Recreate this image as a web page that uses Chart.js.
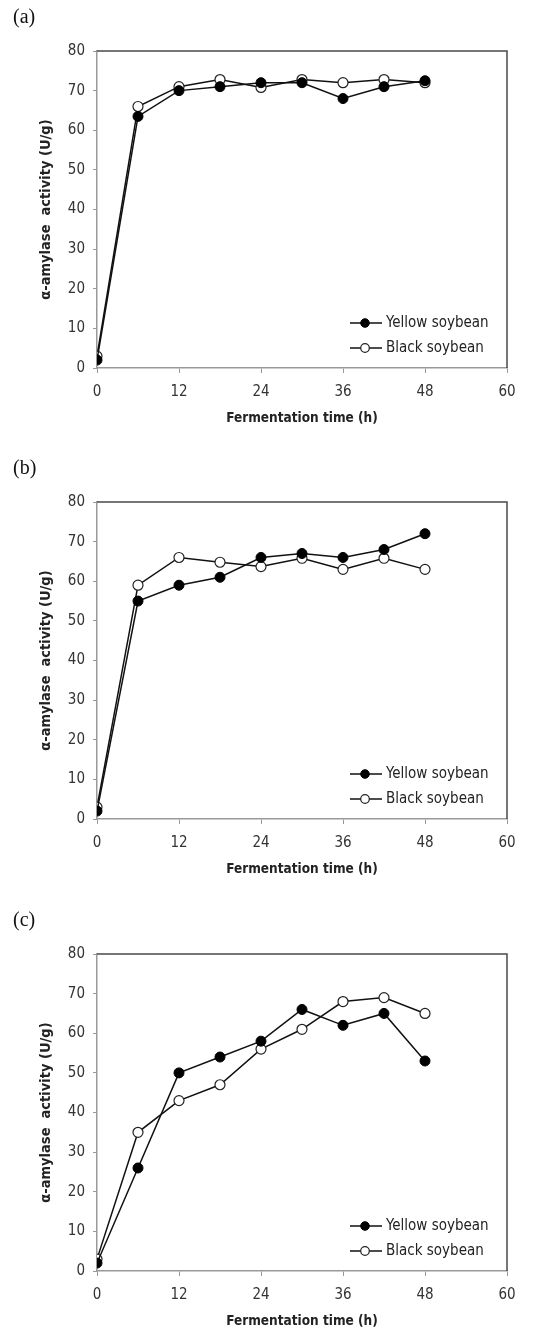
<!doctype html>
<html lang="en">

<head>
    <meta charset="utf-8" />
    <title>alpha-amylase activity</title>
    <script src="https://cdn.jsdelivr.net/npm/chart.js"></script>
    <style>
        body {
            margin: 0;
            background: #fff;
        }

        .panel {
            position: absolute;
            left: 0;
            width: 544px;
            height: 433px;
        }

        .tag {
            position: absolute;
            left: 13px;
            top: 5px;
            font-family: "Liberation Serif", serif;
            font-size: 20px;
            color: #111;
        }
    </style>
</head>

<body>
    <div class="panel" style="top: 0px;">
        <div class="tag">(a)</div>
        <canvas id="chartA" width="544" height="433"></canvas>
    </div>
    <div class="panel" style="top: 451px;">
        <div class="tag">(b)</div>
        <canvas id="chartB" width="544" height="433"></canvas>
    </div>
    <div class="panel" style="top: 903px;">
        <div class="tag">(c)</div>
        <canvas id="chartC" width="544" height="433"></canvas>
    </div>
    <script>
        // fermentation time, h
        const hours = [0, 6, 12, 18, 24, 30, 36, 42, 48];
        const seriesNames = ['Yellow soybean', 'Black soybean'];

        // alpha-amylase activity, U/g
        const yellowA = [2, 63.5, 70, 71, 72, 72, 68, 71, 72.5];
        const blackA = [3, 66, 71, 72.8, 70.8, 72.8, 72, 72.8, 72];

        const yellowB = [2, 55, 59, 61, 66, 67, 66, 68, 72];
        const blackB = [3, 59, 66, 64.8, 63.7, 65.8, 63, 65.8, 63];

        const yellowC = [2, 26, 50, 54, 58, 66, 62, 65, 53];
        const blackC = [3, 35, 43, 47, 56, 61, 68, 69, 65];

        const xTicks = [0, 12, 24, 36, 48, 60];

        const FAMILY = '"DejaVu Sans Condensed", "DejaVu Sans", sans-serif';
        const TICK_FONT = { family: FAMILY, size: 15 };

        function toPoints(values) {
            return hours.map((h, i) => ({ x: h, y: values[i] }));
        }

        // top and right edges of the plot box
        const framePlugin = {
            id: 'frame',
            beforeDatasetsDraw(chart) {
                const { ctx, chartArea: a } = chart;
                ctx.save();
                ctx.strokeStyle = '#4a4a4a';
                ctx.lineWidth = 1.5;
                ctx.beginPath();
                ctx.moveTo(a.left, a.top);
                ctx.lineTo(a.right, a.top);
                ctx.lineTo(a.right, a.bottom);
                ctx.stroke();
                ctx.restore();
            }
        };

        // legend in the lower right corner of the plot
        const cornerLegend = {
            id: 'cornerLegend',
            afterDatasetsDraw(chart) {
                const { ctx, chartArea: a } = chart;
                const rows = [a.bottom - 45, a.bottom - 20];
                ctx.save();
                chart.data.datasets.forEach((ds, i) => {
                    const y = rows[i];
                    const x0 = a.right - 157;
                    ctx.strokeStyle = ds.borderColor;
                    ctx.lineWidth = ds.borderWidth;
                    ctx.beginPath();
                    ctx.moveTo(x0, y);
                    ctx.lineTo(x0 + 32, y);
                    ctx.stroke();
                    ctx.beginPath();
                    ctx.arc(x0 + 15, y, 4.3, 0, Math.PI * 2);
                    ctx.fillStyle = ds.pointBackgroundColor;
                    ctx.fill();
                    ctx.lineWidth = ds.pointBorderWidth;
                    ctx.strokeStyle = ds.pointBorderColor;
                    ctx.stroke();
                    ctx.fillStyle = '#222';
                    ctx.font = '15px ' + FAMILY;
                    ctx.textBaseline = 'middle';
                    ctx.fillText(ds.label, x0 + 36, y);
                });
                ctx.restore();
            }
        };

        function buildPanel(id, yellow, black) {
            const ctx = document.getElementById(id);
            return new Chart(ctx, {
                type: 'line',
                data: {
                    datasets: [
                        {
                            label: seriesNames[0],
                            data: toPoints(yellow),
                            borderColor: '#111',
                            borderWidth: 1.5,
                            pointRadius: 5,
                            pointBackgroundColor: '#000',
                            pointBorderColor: '#000',
                            pointBorderWidth: 1,
                            tension: 0
                        },
                        {
                            label: seriesNames[1],
                            data: toPoints(black),
                            borderColor: '#111',
                            borderWidth: 1.5,
                            pointRadius: 5,
                            pointBackgroundColor: '#fff',
                            pointBorderColor: '#222',
                            pointBorderWidth: 1.2,
                            tension: 0
                        }
                    ]
                },
                options: {
                    responsive: false,
                    animation: false,
                    layout: {
                        padding: { left: 0, top: 51, right: 37, bottom: 0 }
                    },
                    plugins: {
                        legend: { display: false },
                        tooltip: { enabled: false }
                    },
                    scales: {
                        x: {
                            type: 'linear',
                            min: 0,
                            max: 60,
                            afterBuildTicks(scale) {
                                scale.ticks = xTicks.map(v => ({ value: v }));
                            },
                            afterFit(scale) {
                                scale.height = 65;
                            },
                            grid: {
                                drawOnChartArea: false,
                                drawTicks: true,
                                tickLength: 5,
                                color: '#999'
                            },
                            border: { display: true, color: '#999', width: 1.5 },
                            ticks: {
                                color: '#333',
                                font: TICK_FONT,
                                padding: 10,
                                maxRotation: 0
                            },
                            title: {
                                display: true,
                                text: 'Fermentation time (h)',
                                color: '#222',
                                font: { family: FAMILY, size: 13.5, weight: 'bold' },
                                padding: { top: 0, bottom: 6 }
                            }
                        },
                        y: {
                            min: 0,
                            max: 80,
                            ticks: {
                                stepSize: 10,
                                color: '#333',
                                font: TICK_FONT,
                                padding: 8
                            },
                            afterFit(scale) {
                                scale.width = 97;
                            },
                            grid: {
                                drawOnChartArea: false,
                                drawTicks: true,
                                tickLength: 4,
                                color: '#999'
                            },
                            border: { display: true, color: '#999', width: 1.5 },
                            title: {
                                display: true,
                                text: 'α-amylase  activity (U/g)',
                                color: '#222',
                                font: { family: FAMILY, size: 14.5, weight: 'bold' },
                                padding: { top: 38, bottom: 0 }
                            }
                        }
                    }
                },
                plugins: [framePlugin, cornerLegend]
            });
        }

        buildPanel('chartA', yellowA, blackA);
        buildPanel('chartB', yellowB, blackB);
        buildPanel('chartC', yellowC, blackC);
    </script>
</body>

</html>
